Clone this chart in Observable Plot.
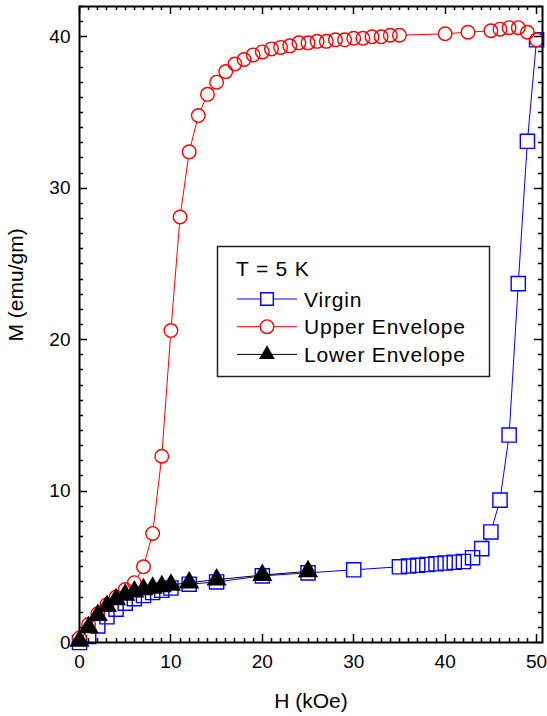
<!DOCTYPE html>
<html>
<head>
<meta charset="utf-8">
<script src="https://cdn.jsdelivr.net/npm/d3@7"></script>
<script src="https://cdn.jsdelivr.net/npm/@observablehq/plot@0.6"></script>
<style>
  html, body { margin: 0; padding: 0; background: #fff; }
  #wrap { position: relative; width: 547px; height: 716px; }
</style>
</head>
<body>
<div id="wrap"></div>
<script>
// ---------------- data ----------------
const virginH = [0, 1, 2, 3, 4, 5, 6, 7, 8, 9, 10, 12, 15, 20, 25, 30, 35, 36, 37, 38, 39, 40, 41, 42, 43, 44, 45, 46, 47, 48, 49, 50];
const virginM = [0, 0.4, 1.1, 1.7, 2.2, 2.6, 2.9, 3.1, 3.3, 3.45, 3.6, 3.85, 4.0, 4.4, 4.6, 4.8, 5.0, 5.05, 5.1, 5.15, 5.2, 5.25, 5.3, 5.35, 5.6, 6.2, 7.3, 9.4, 13.7, 23.7, 33.1, 39.8];

const upperH = [0, 1, 2, 3, 4, 5, 6, 7, 8, 9, 10, 11, 12, 13, 14, 15, 16, 17, 18, 19, 20, 21, 22, 23, 24, 25, 26, 27, 28, 29, 30, 31, 32, 33, 34, 35, 40, 42.5, 45, 46, 47, 48, 49, 50];
const upperM = [0.3, 1.2, 1.9, 2.5, 3.0, 3.5, 3.95, 5.0, 7.2, 12.3, 20.6, 28.1, 32.4, 34.8, 36.2, 37.0, 37.7, 38.2, 38.5, 38.8, 39.0, 39.2, 39.3, 39.4, 39.6, 39.6, 39.7, 39.7, 39.8, 39.8, 39.9, 39.9, 40.0, 40.0, 40.1, 40.1, 40.2, 40.3, 40.4, 40.5, 40.6, 40.6, 40.3, 39.8];

const lowerH = [0, 1, 2, 3, 4, 5, 6, 7, 8, 9, 10, 12, 15, 20, 25];
const lowerM = [0.1, 1.0, 1.8, 2.4, 2.85, 3.15, 3.35, 3.5, 3.6, 3.7, 3.8, 3.95, 4.15, 4.45, 4.7];

const seriesNames = ["Virgin", "Upper Envelope", "Lower Envelope"];
const seriesColors = ["#0000ff", "#ff0000", "#000000"];
const seriesSymbols = ["square", "circle", "triangle"];
const legendTitle = "T = 5 K";

const xMajorTicks = [0, 10, 20, 30, 40, 50];
const yMajorTicks = [0, 10, 20, 30, 40];
const xMinorTicks = d3.range(0, 51, 1);
const yMinorTicks = d3.range(0, 43, 1);
const xLabel = "H (kOe)";
const yLabel = "M (emu/gm)";

// ---------------- build ----------------
const W = 547, Hh = 716;
const mL = 79, mR = 5, mT = 6, mB = 74;
const font = "'Liberation Sans', Arial, Helvetica, sans-serif";
const toRows = (H, M) => H.map((h, i) => ({H: h, M: M[i]}));
const series = [toRows(virginH, virginM), toRows(upperH, upperM), toRows(lowerH, lowerM)];
const symR = {square: 8, circle: 6.8, triangle: 7.5};

const seriesMarks = series.flatMap((rows, i) => {
  const c = seriesColors[i], s = seriesSymbols[i];
  const m = [Plot.line(rows, {x: "H", y: "M", stroke: c, strokeWidth: 1})];
  if (s === "triangle") {
    m.push(Plot.dot(rows, {x: "H", y: "M", symbol: s, r: symR[s], fill: c, stroke: "none"}));
  } else {
    m.push(Plot.dot(rows, {x: "H", y: "M", symbol: s, r: symR[s], fill: "white", stroke: "none"}));
    m.push(Plot.dot(rows, {x: "H", y: "M", symbol: s, r: symR[s], fill: "none", stroke: c, strokeWidth: 1.4}));
  }
  return m;
});

const chart = Plot.plot({
  width: W, height: Hh, marginLeft: mL, marginRight: mR, marginTop: mT, marginBottom: mB,
  style: {fontFamily: font, fontSize: "19px", color: "black", background: "white", overflow: "visible"},
  x: {domain: [0, 50.65]},
  y: {domain: [0, 42]},
  marks: [
    ...seriesMarks,
    Plot.axisX(xMajorTicks, {anchor: "bottom", tickSize: 0, tickPadding: 12, label: null, fontSize: 19}),
    Plot.axisY(yMajorTicks, {anchor: "left", tickSize: 0, tickPadding: 9, label: null, fontSize: 19}),
    Plot.text([xLabel], {frameAnchor: "bottom", text: d => d, dy: 65, lineAnchor: "bottom", fontSize: 21}),
    Plot.text([yLabel], {frameAnchor: "left", text: d => d, dx: -63, dy: 17, rotate: -90, fontSize: 21}),
    Plot.frame({stroke: "black", strokeWidth: 2})
  ]
});
document.getElementById("wrap").appendChild(chart);

// ---------------- inward ticks on all four sides, placed with the chart's own scales ----------------
const sx = chart.scale("x"), sy = chart.scale("y");
const yBottom = Hh - mB, yTop = mT, xLeft = mL, xRight = W - mR;
let dTicks = "";
for (const [t, L] of [[xMinorTicks, 4], [xMajorTicks, 8]]) {
  for (const v of t) {
    const px = Math.round(sx.apply(v)) + 0.5;
    dTicks += `M${px},${yBottom}V${yBottom - L}M${px},${yTop}V${yTop + L}`;
  }
}
for (const [t, L] of [[yMinorTicks, 4], [yMajorTicks, 8]]) {
  for (const v of t) {
    const py = Math.round(sy.apply(v)) + 0.5;
    dTicks += `M${xLeft},${py}H${xLeft + L}M${xRight},${py}H${xRight - L}`;
  }
}
d3.select(chart).append("path").attr("d", dTicks).attr("fill", "none")
  .attr("stroke", "black").attr("stroke-width", 1.5);

// ---------------- legend (inside the chart svg) ----------------
const lg = d3.select(chart).append("g").attr("font-family", font).attr("fill", "black")
  .attr("text-anchor", "start");
lg.append("rect").attr("x", 217.5).attr("y", 246.5).attr("width", 272).attr("height", 130)
  .attr("fill", "white").attr("stroke", "#222").attr("stroke-width", 1.5);
lg.append("text").attr("x", 236).attr("y", 276).attr("font-size", 21).attr("letter-spacing", 0.8).text(legendTitle);
const symMap = {square: d3.symbolSquare2, circle: d3.symbolCircle, triangle: d3.symbolTriangle2};
seriesNames.forEach((name, i) => {
  const yy = 299 + i * 27.7;
  const c = seriesColors[i], s = seriesSymbols[i];
  lg.append("line").attr("x1", 237).attr("x2", 297).attr("y1", yy).attr("y2", yy)
    .attr("stroke", c).attr("stroke-width", 1);
  const r = symR[s];
  lg.append("path").attr("transform", `translate(267,${yy})`)
    .attr("d", d3.symbol(symMap[s], Math.PI * r * r)())
    .attr("fill", s === "triangle" ? c : "white")
    .attr("stroke", s === "triangle" ? "none" : c).attr("stroke-width", 1.4);
  lg.append("text").attr("x", 304).attr("y", yy + 7.5).attr("font-size", 21).attr("letter-spacing", 0.8).text(name);
});
</script>
</body>
</html>
